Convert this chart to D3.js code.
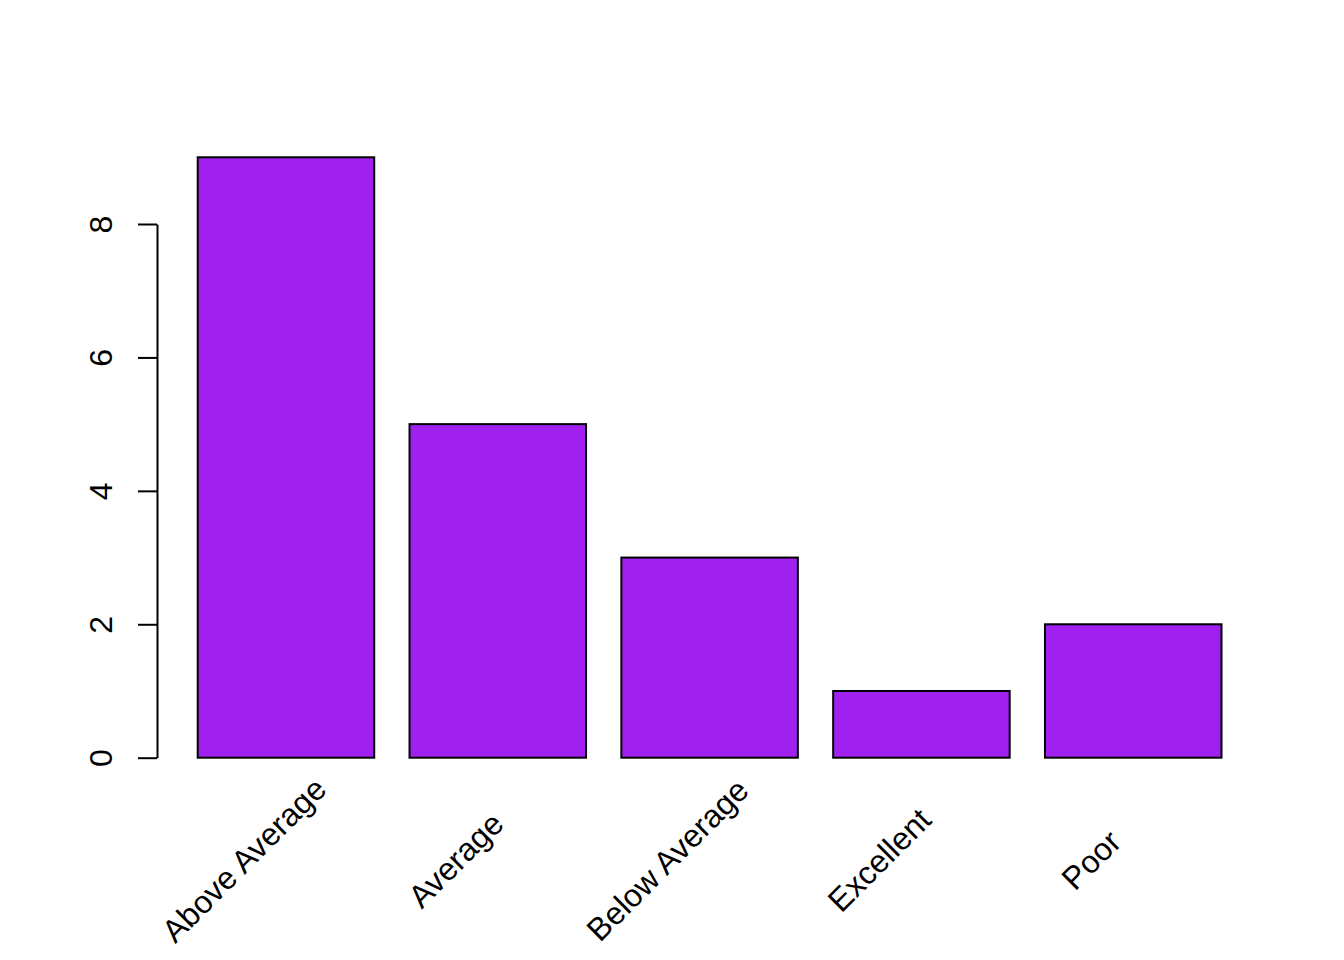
<!DOCTYPE html>
<html>
<head>
<meta charset="utf-8">
<script src="https://cdn.jsdelivr.net/npm/d3@7"></script>
<style>
  body { margin: 0; background: #fff; }
  text { font-family: "Liberation Sans", Arial, sans-serif; }
</style>
</head>
<body>
<div id="vis"></div>
<script>
const FRAME_WIDTH = 1344;
const FRAME_HEIGHT = 960;

const CATEGORIES = ["Above Average", "Average", "Below Average", "Excellent", "Poor"];
const COUNTS = [9, 5, 3, 1, 2];
const Y_TICKS = [0, 2, 4, 6, 8];

const X_SCALE = d3.scaleBand()
  .domain(CATEGORIES)
  .range([197.7, 1221.5])
  .paddingInner(1 / 6)
  .paddingOuter(0);

const Y_SCALE = d3.scaleLinear()
  .domain([0, 8])
  .range([757.7, 224]);

const FRAME = d3.select("#vis")
  .append("svg")
    .attr("width", FRAME_WIDTH)
    .attr("height", FRAME_HEIGHT);

// bars
FRAME.selectAll(".bar")
  .data(COUNTS)
  .enter()
  .append("rect")
    .attr("class", "bar")
    .attr("x", (d, i) => X_SCALE(CATEGORIES[i]))
    .attr("y", (d) => Y_SCALE(d))
    .attr("width", X_SCALE.bandwidth())
    .attr("height", (d) => Y_SCALE(0) - Y_SCALE(d))
    .attr("fill", "#A020F0")
    .attr("stroke", "#000")
    .attr("stroke-width", 2);

// y axis, R style
const yAxis = FRAME.append("g")
  .attr("transform", "translate(157,0)")
  .call(d3.axisLeft(Y_SCALE).tickValues(Y_TICKS).tickSize(19).tickSizeOuter(0).tickPadding(0));

yAxis.select(".domain").attr("stroke", "#000").attr("stroke-width", 2);
yAxis.selectAll(".tick line").attr("stroke", "#000").attr("stroke-width", 2);
// rotate labels around the tick position
yAxis.selectAll(".tick text")
  .attr("x", 0)
  .attr("y", 0)
  .attr("dy", 0)
  .attr("transform", "translate(-45,0) rotate(-90)")
  .attr("text-anchor", "middle")
  .style("font-family", "'Liberation Sans', Arial, sans-serif")
  .style("font-size", "32px")
  .attr("fill", "#000");

// rotated category labels
FRAME.selectAll(".xlab")
  .data(CATEGORIES)
  .enter()
  .append("text")
    .attr("class", "xlab")
    .attr("transform", (d) => "translate(" + (X_SCALE(d) + X_SCALE.bandwidth() / 2 - 42) + ",860) rotate(-45)")
    .attr("text-anchor", "middle")
    .attr("dominant-baseline", "central")
    .style("font-size", "32px")
    .attr("fill", "#000")
    .text((d) => d);
</script>
</body>
</html>
